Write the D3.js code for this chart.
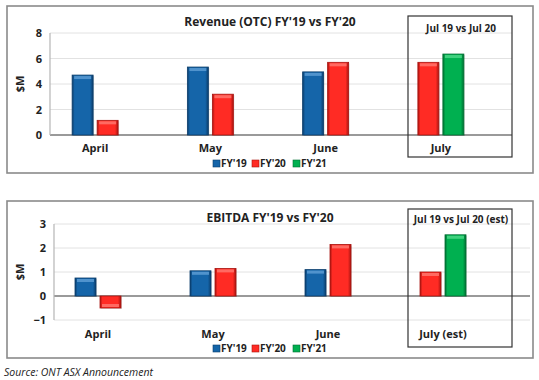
<!DOCTYPE html>
<html>
<head>
<meta charset="utf-8">
<script src="https://cdn.jsdelivr.net/npm/d3@7"></script>
<style>
  body { margin: 0; background: #fff; }
  svg { display: block; font-family: "Open Sans", "Noto Sans", sans-serif; }
</style>
</head>
<body>
<svg id="chart" width="539" height="380"></svg>
<script>
// data
const months = ["April", "May", "June", "July"];
const monthsEst = ["April", "May", "June", "July (est)"];
const seriesNames = ["FY'19", "FY'20", "FY'21"];
const revFY19 = [4.7, 5.33, 4.95, null];
const revFY20 = [1.15, 3.2, 5.7, 5.7];
const revFY21 = [null, null, null, 6.35];
const ebitdaFY19 = [0.75, 1.05, 1.1, null];
const ebitdaFY20 = [-0.5, 1.15, 2.15, 1.0];
const ebitdaFY21 = [null, null, null, 2.55];
const revTicks = [0, 2, 4, 6, 8];
const ebitdaTicks = [-1, 0, 1, 2, 3];

const colors = { "FY'19": "#1565a9", "FY'20": "#ff2b24", "FY'21": "#00b050" };
const darker = { "FY'19": "#0b3d6b", "FY'20": "#a81410", "FY'21": "#006e32" };
const lighter = { "FY'19": "#5f9fd6", "FY'20": "#ff7a72", "FY'21": "#4fd98a" };

const svg = d3.select("#chart");

// gradients for the bevelled bars
const defs = svg.append("defs");
seriesNames.forEach((s, i) => {
  const g = defs.append("linearGradient").attr("id", "grad" + i)
    .attr("x1", 0).attr("x2", 1).attr("y1", 0).attr("y2", 0);
  g.append("stop").attr("offset", "0%").attr("stop-color", darker[s]);
  g.append("stop").attr("offset", "12%").attr("stop-color", colors[s]);
  g.append("stop").attr("offset", "85%").attr("stop-color", colors[s]);
  g.append("stop").attr("offset", "100%").attr("stop-color", darker[s]);
});

function drawChart(cfg) {
  const g = svg.append("g");

  // outer frame
  g.append("rect")
    .attr("x", cfg.frame[0]).attr("y", cfg.frame[1])
    .attr("width", cfg.frame[2]).attr("height", cfg.frame[3])
    .attr("fill", "#fff").attr("stroke", "#8a8a8a").attr("stroke-width", 1.6);

  const y = d3.scaleLinear().domain(cfg.domain).range(cfg.yRange);
  const x = d3.scaleBand().domain(cfg.cats).range(cfg.xRange);

  // gridlines
  g.selectAll(".grid").data(cfg.ticks).join("line")
    .attr("x1", cfg.gridX[0]).attr("x2", cfg.gridX[1])
    .attr("y1", d => y(d)).attr("y2", d => y(d))
    .attr("stroke", d => d === 0 ? "#9a9a9a" : "#e2e2e2")
    .attr("stroke-width", d => d === 0 ? 2 : 1);

  // left axis line
  g.append("line")
    .attr("x1", cfg.gridX[0]).attr("x2", cfg.gridX[0])
    .attr("y1", y(cfg.domain[1])).attr("y2", y(cfg.domain[0]))
    .attr("stroke", "#b5b5b5").attr("stroke-width", 1.2);

  // tick labels
  const axis = d3.axisLeft(y).tickValues(cfg.ticks).tickFormat(d3.format("d")).tickSize(0).tickPadding(0);
  const ax = g.append("g").attr("transform", `translate(${cfg.gridX[0] - 8},0)`).call(axis);
  ax.select(".domain").remove();
  ax.selectAll("text").attr("font-size", 11).attr("font-weight", "bold")
    .attr("fill", "#222").attr("font-family", "'Open Sans', sans-serif");

  // y title
  g.append("text")
    .attr("transform", `translate(${cfg.yTitleX},${(y(cfg.domain[0]) + y(cfg.domain[1])) / 2}) rotate(-90)`)
    .attr("text-anchor", "middle").attr("font-size", 11).attr("font-weight", "bold")
    .attr("fill", "#222").text("$M");

  // title
  g.append("text").attr("x", 270).attr("y", cfg.titleY)
    .attr("text-anchor", "middle").attr("font-size", 12).attr("font-weight", "bold")
    .attr("fill", "#222").text(cfg.title);

  // bars
  const barW = 21, gap = 4;
  cfg.cats.forEach((c, i) => {
    const present = cfg.series.map((vals, s) => ({ s, v: vals[i] })).filter(d => d.v != null);
    const cx = x(c) + x.bandwidth() / 2;
    const total = present.length * barW + (present.length - 1) * gap;
    present.forEach((d, k) => {
      const bx = cx - total / 2 + k * (barW + gap);
      const y0 = y(0), y1 = y(d.v);
      const top = Math.min(y0, y1), h = Math.abs(y1 - y0);
      const name = seriesNames[d.s];
      g.append("rect").attr("x", bx + 1).attr("y", top + 1).attr("width", barW).attr("height", h)
        .attr("fill", "#000").attr("opacity", 0.12);
      g.append("rect").attr("x", bx).attr("y", top).attr("width", barW).attr("height", h)
        .attr("fill", `url(#grad${d.s})`).attr("stroke", darker[name]).attr("stroke-width", 0.8);
      // bevel strip
      const bev = d.v >= 0 ? top + 1 : top + h - 4;
      g.append("rect").attr("x", bx + 2).attr("y", bev).attr("width", barW - 4).attr("height", 3)
        .attr("fill", lighter[name]).attr("opacity", 0.8);
    });
    g.append("text").attr("x", cx).attr("y", cfg.catY)
      .attr("text-anchor", "middle").attr("font-size", 11).attr("font-weight", "bold")
      .attr("fill", "#222").text(c);
  });

  // July box
  g.append("rect")
    .attr("x", cfg.box[0]).attr("y", cfg.box[1]).attr("width", cfg.box[2]).attr("height", cfg.box[3])
    .attr("fill", "none").attr("stroke", "#333").attr("stroke-width", 1.2);
  g.append("text").attr("x", cfg.box[0] + cfg.box[2] / 2 + 1).attr("y", cfg.boxLabelY)
    .attr("text-anchor", "middle").attr("font-size", 10).attr("font-weight", "bold")
    .attr("fill", "#222").text(cfg.boxLabel);

  // legend
  const leg = g.append("g").attr("transform", `translate(213,${cfg.legendY})`);
  const offs = [0, 39, 80];
  seriesNames.forEach((s, i) => {
    leg.append("rect").attr("x", offs[i]).attr("y", -7).attr("width", 7).attr("height", 7)
      .attr("fill", colors[s]).attr("stroke", darker[s]).attr("stroke-width", 0.6);
    leg.append("text").attr("x", offs[i] + 8).attr("y", 0)
      .attr("font-size", 10).attr("font-weight", "bold").attr("fill", "#222").text(s);
  });
}

drawChart({
  frame: [7, 6, 526, 167],
  title: "Revenue (OTC) FY'19 vs FY'20",
  titleY: 26,
  cats: months,
  series: [revFY19, revFY20, revFY21],
  domain: [0, 8],
  ticks: revTicks,
  yRange: [135, 33],
  xRange: [37.5, 498.5],
  gridX: [50, 512],
  yTitleX: 24,
  catY: 152,
  box: [408, 16, 104, 141],
  boxLabel: "Jul 19 vs Jul 20",
  boxLabelY: 32,
  legendY: 167
});

drawChart({
  frame: [7, 201, 526, 157],
  title: "EBITDA FY'19 vs FY'20",
  titleY: 222,
  cats: monthsEst,
  series: [ebitdaFY19, ebitdaFY20, ebitdaFY21],
  domain: [-1, 3],
  ticks: ebitdaTicks,
  yRange: [320, 224],
  xRange: [40.5, 500.5],
  gridX: [54, 530],
  yTitleX: 24,
  catY: 338,
  box: [408, 209, 104, 138],
  boxLabel: "Jul 19 vs Jul 20 (est)",
  boxLabelY: 223,
  legendY: 352
});

svg.append("text").attr("x", 4).attr("y", 376)
  .attr("font-size", 10.5).attr("font-style", "italic").attr("fill", "#222")
  .text("Source: ONT ASX Announcement");
</script>
</body>
</html>
